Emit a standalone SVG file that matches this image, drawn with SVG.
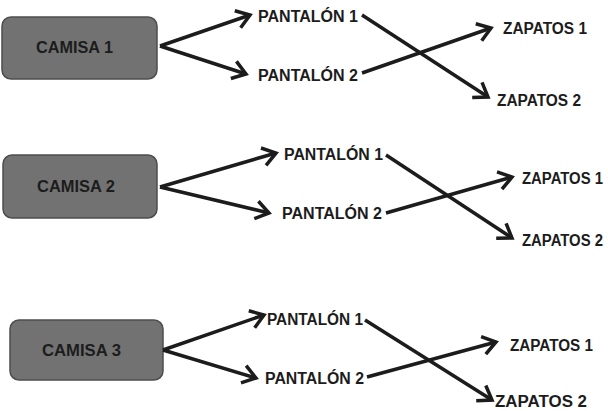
<svg xmlns="http://www.w3.org/2000/svg" width="608" height="411" viewBox="0 0 608 411">
<style>
.box{fill:#727272;stroke:#4d4d4d;stroke-width:1.5}
.t{font-family:"Liberation Sans",Arial,sans-serif;font-weight:bold;font-size:16px;fill:#1c1c1c}
.c{stroke:#1c1c1c;stroke-width:3.5;fill:none;marker-end:url(#ah)}
</style>
<defs>
<marker id="ah" markerUnits="userSpaceOnUse" markerWidth="20" markerHeight="22" refX="16" refY="10" orient="auto" overflow="visible">
<path d="M3,1 L16,10 L3,19" fill="none" stroke="#1c1c1c" stroke-width="3.5" stroke-linejoin="miter"/>
</marker>
</defs>
<rect width="608" height="411" fill="#ffffff"/>
<g id="camisa1"><rect class="box" x="2" y="17" width="155" height="62" rx="9"/><text class="t" x="36" y="53" textLength="77" lengthAdjust="spacingAndGlyphs">CAMISA 1</text></g>
<g id="pantalon1a"><text class="t" x="258" y="22" textLength="100" lengthAdjust="spacingAndGlyphs">PANTALÓN 1</text></g>
<g id="pantalon2a"><text class="t" x="258" y="81" textLength="100" lengthAdjust="spacingAndGlyphs">PANTALÓN 2</text></g>
<g id="zapatos1a"><text class="t" x="503" y="34" textLength="84" lengthAdjust="spacingAndGlyphs">ZAPATOS 1</text></g>
<g id="zapatos2a"><text class="t" x="497" y="106" textLength="84" lengthAdjust="spacingAndGlyphs">ZAPATOS 2</text></g>

<g id="camisa2"><rect class="box" x="3" y="155" width="154" height="63" rx="9"/><text class="t" x="37" y="192" textLength="78" lengthAdjust="spacingAndGlyphs">CAMISA 2</text></g>
<g id="pantalon1b"><text class="t" x="284" y="160" textLength="99" lengthAdjust="spacingAndGlyphs">PANTALÓN 1</text></g>
<g id="pantalon2b"><text class="t" x="282" y="219" textLength="100" lengthAdjust="spacingAndGlyphs">PANTALÓN 2</text></g>
<g id="zapatos1b"><text class="t" x="522" y="184" textLength="81" lengthAdjust="spacingAndGlyphs">ZAPATOS 1</text></g>
<g id="zapatos2b"><text class="t" x="522" y="246" textLength="81" lengthAdjust="spacingAndGlyphs">ZAPATOS 2</text></g>

<g id="camisa3"><rect class="box" x="10" y="320" width="153" height="60" rx="9"/><text class="t" x="42" y="356" textLength="79" lengthAdjust="spacingAndGlyphs">CAMISA 3</text></g>
<g id="pantalon1c"><text class="t" x="267" y="325" textLength="96" lengthAdjust="spacingAndGlyphs">PANTALÓN 1</text></g>
<g id="pantalon2c"><text class="t" x="265" y="384" textLength="99" lengthAdjust="spacingAndGlyphs">PANTALÓN 2</text></g>
<g id="zapatos1c"><text class="t" x="510" y="351" textLength="83" lengthAdjust="spacingAndGlyphs">ZAPATOS 1</text></g>
<g id="zapatos2c"><text class="t" x="495" y="407" textLength="92" lengthAdjust="spacingAndGlyphs">ZAPATOS 2</text></g>

<g id="connectors">
<line class="c" x1="160" y1="46" x2="250" y2="15"/>
<line class="c" x1="160" y1="46" x2="246" y2="74"/>
<line class="c" x1="362" y1="15" x2="488" y2="97"/>
<line class="c" x1="362" y1="73" x2="491" y2="28"/>

<line class="c" x1="160" y1="187" x2="276" y2="153"/>
<line class="c" x1="160" y1="187" x2="269" y2="213"/>
<line class="c" x1="386" y1="155" x2="512" y2="238"/>
<line class="c" x1="386" y1="213" x2="512" y2="177"/>

<line class="c" x1="163" y1="350" x2="264" y2="315"/>
<line class="c" x1="163" y1="350" x2="256" y2="378"/>
<line class="c" x1="365" y1="320" x2="492" y2="400"/>
<line class="c" x1="367" y1="377" x2="496" y2="342"/>
</g>
</svg>
